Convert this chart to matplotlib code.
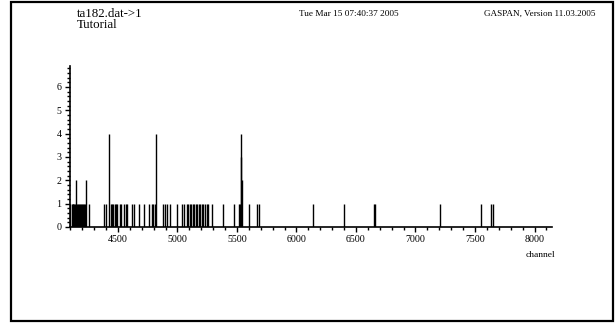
import matplotlib
matplotlib.use("Agg")
import matplotlib.pyplot as plt
from matplotlib.patches import Rectangle
from matplotlib.ticker import MultipleLocator

plt.rcParams['font.family'] = ['Liberation Serif', 'DejaVu Serif']

# spike channels and counts
channels = [4100, 4111, 4119, 4125, 4133, 4141, 4147, 4153, 4161, 4170, 4178, 4187,
            4195, 4203, 4212, 4220, 4231, 4256, 4385, 4397, 4424, 4439, 4452, 4461,
            4472, 4483, 4494, 4517, 4528, 4553, 4567, 4578, 4618, 4632, 4676, 4718,
            4761, 4783, 4797, 4808, 4817, 4878, 4898, 4914, 4937, 4998, 5038, 5052,
            5077, 5091, 5102, 5113, 5127, 5141, 5153, 5166, 5178, 5189, 5203, 5214,
            5229, 5245, 5259, 5290, 5382, 5472, 5519, 5528, 5534, 5537, 5541, 5601,
            5665, 5682, 6136, 6402, 6651, 6662, 7206, 7550, 7634, 7649]
counts = [1, 1, 1, 1, 1, 1, 2, 1, 1, 1, 1, 1,
          1, 1, 1, 1, 2, 1, 1, 1, 4, 1, 1, 1,
          1, 1, 1, 1, 1, 1, 1, 1, 1, 1, 1, 1,
          1, 1, 1, 1, 4, 1, 1, 1, 1, 1, 1, 1,
          1, 1, 1, 1, 1, 1, 1, 1, 1, 1, 1, 1,
          1, 1, 1, 1, 1, 1, 1, 1, 4, 3, 2, 1,
          1, 1, 1, 1, 1, 1, 1, 1, 1, 1]

x_ticks = [4500, 5000, 5500, 6000, 6500, 7000, 7500, 8000]
y_ticks = [0, 1, 2, 3, 4, 5, 6]

W, H = 616, 324
fig = plt.figure(figsize=(W / 100, H / 100), dpi=100)
ax = fig.add_axes([70 / W, 1 - 227 / H, (552 - 70) / W, (227 - 66) / H])

ax.vlines(channels, 0, counts, colors='black', linewidth=1.0)
ax.set_xlim(4097, 8147)
ax.set_ylim(0, 6.9)

ax.set_xticks(x_ticks)
ax.set_xticklabels([str(t) for t in x_ticks], fontsize=7.2)
ax.set_yticks(y_ticks)
ax.set_yticklabels([str(t) for t in y_ticks], fontsize=7.2)
ax.xaxis.set_minor_locator(MultipleLocator(100))
ax.yaxis.set_minor_locator(MultipleLocator(0.2))
ax.tick_params(axis='both', which='major', direction='out', length=3.5, width=1.0, pad=2.5)
ax.tick_params(axis='both', which='minor', direction='out', length=2.0, width=1.0)
for s in ['top', 'right']:
    ax.spines[s].set_visible(False)
for s in ['left', 'bottom']:
    ax.spines[s].set_linewidth(1.2)

# header texts
fig.text(77 / W, 1 - 17 / H, 'ta182.dat->1', fontsize=9.3, ha='left', va='baseline')
fig.text(77 / W, 1 - 28.5 / H, 'Tutorial', fontsize=9.3, ha='left', va='baseline')
fig.text(299 / W, 1 - 16 / H, 'Tue Mar 15 07:40:37 2005', fontsize=6.7, ha='left', va='baseline')
fig.text(595 / W, 1 - 16 / H, 'GASPAN, Version 11.03.2005', fontsize=6.6, ha='right', va='baseline')
fig.text(555 / W, 1 - 257 / H, 'channel', fontsize=6.8, ha='right', va='baseline')

# outer frame
fig.patches.append(Rectangle((11 / W, 1 - 321 / H), (613 - 11) / W, (321 - 2) / H,
                             transform=fig.transFigure, fill=False,
                             edgecolor='black', linewidth=1.6))

fig.savefig('out.png', dpi=100)
